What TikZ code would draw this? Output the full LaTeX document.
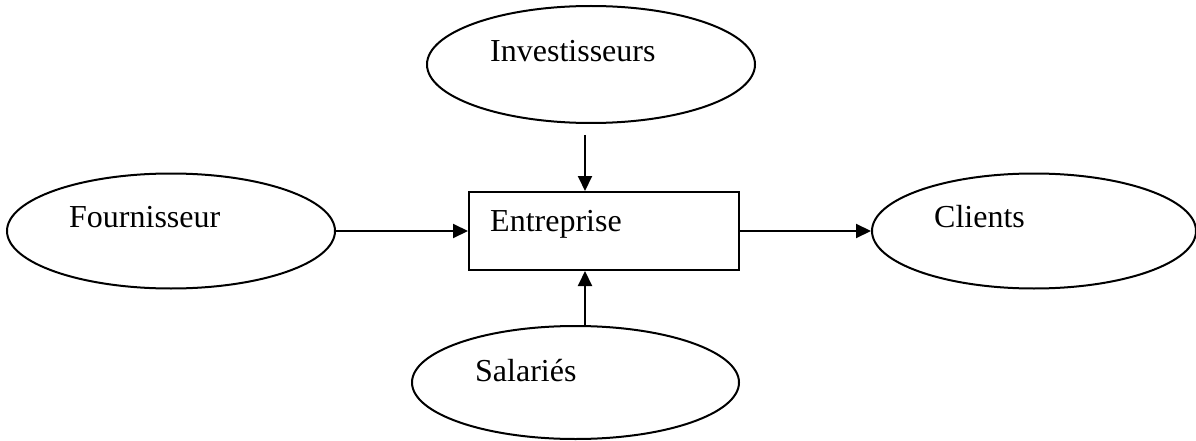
\documentclass[tikz,border=0pt]{standalone}
\usepackage{fontspec}
\setmainfont{Liberation Serif}
\usetikzlibrary{shapes.geometric,arrows.meta}
\begin{document}
\begin{tikzpicture}[x=1pt,y=-1pt,
  ell/.style={draw,ellipse,line width=2pt,inner sep=0pt},
  box/.style={draw,rectangle,line width=2pt,inner sep=0pt},
  lbl/.style={anchor=base west,inner sep=0pt,font=\fontsize{32}{38}\selectfont},
  arr/.style={line width=2pt,-{Triangle[length=15pt,width=14pt]}}]
\useasboundingbox (0,0) rectangle (1196,441);
\node[ell,minimum width=328pt,minimum height=117pt] (inv) at (591,64.5) {};
\node[ell,minimum width=328pt,minimum height=115pt] (four) at (171,231) {};
\node[ell,minimum width=324pt,minimum height=115pt] (cli) at (1034,231) {};
\node[ell,minimum width=327pt,minimum height=113pt] (sal) at (575.5,382.5) {};
\node[box,minimum width=270pt,minimum height=78pt] (ent) at (604,231) {};
\node[lbl] (tinv) at (490,62) {Investisseurs};
\node[lbl] (tfour) at (69,227) {Fournisseur};
\node[lbl] (tcli) at (934,227) {Clients};
\node[lbl] (tent) at (490,231.5) {Entreprise};
\node[lbl] (tsal) at (475,381) {Salariés};
\draw[arr] (four.east) -- (ent.west);
\draw[arr] (ent.east) -- (cli.west);
\draw[arr] ([xshift=-6pt,yshift=-11pt]inv.south) -- ([xshift=-19pt]ent.north);
\draw[arr] ([xshift=9.5pt]sal.north) -- ([xshift=-19pt]ent.south);
\end{tikzpicture}
\end{document}
